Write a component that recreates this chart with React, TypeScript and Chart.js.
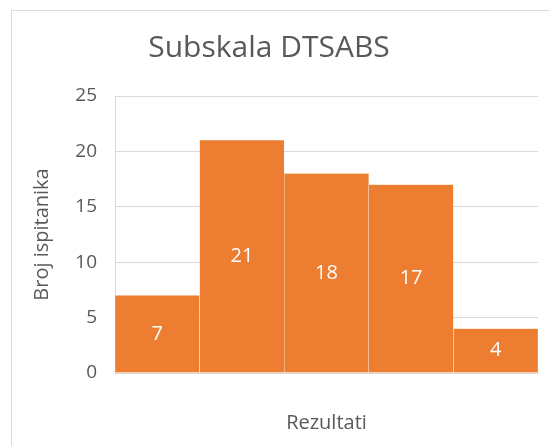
import React, { useEffect, useRef } from "react";
import { Chart, registerables } from "chart.js";

Chart.register(...registerables);

const categories = ["Bin 1", "Bin 2", "Bin 3", "Bin 4", "Bin 5"];
const counts = [7, 21, 18, 17, 4];
const yTicks = [0, 5, 10, 15, 20, 25];
const titleText = "Subskala DTSABS";
const yTitle = "Broj ispitanika";
const xTitle = "Rezultati";

const FONT = "'Open Sans', sans-serif";
const TEXT = "#595959";
const GRID = "#d9d9d9";
const BAR = "#ED7D31";

const frame = {
  id: "frame",
  beforeDraw(chart: any) {
    const ctx = chart.ctx;
    ctx.save();
    ctx.fillStyle = "#ffffff";
    ctx.fillRect(0, 0, chart.width, chart.height);
    ctx.strokeStyle = GRID;
    ctx.lineWidth = 1;
    ctx.strokeRect(11.5, 10.5, 700, 700);
    ctx.restore();
  },
};

const labels = {
  id: "barLabels",
  afterDatasetsDraw(chart: any) {
    const ctx = chart.ctx;
    const meta = chart.getDatasetMeta(0);
    ctx.save();
    ctx.fillStyle = "#ffffff";
    ctx.font = `20px ${FONT}`;
    ctx.textAlign = "center";
    ctx.textBaseline = "middle";
    meta.data.forEach((bar: any, i: number) => {
      const { x, y, base } = bar.getProps(["x", "y", "base"], true);
      ctx.fillText(String(counts[i]), x, (y + base) / 2);
    });
    ctx.restore();
  },
};

export default function App() {
  const ref = useRef<HTMLCanvasElement>(null);
  useEffect(() => {
    if (!ref.current) return;
    const chart = new Chart(ref.current, {
      type: "bar",
      data: {
        labels: categories,
        datasets: [
          {
            data: counts,
            backgroundColor: BAR,
            borderColor: "rgba(255,255,255,0.7)",
            borderWidth: { left: 0.5, right: 0.5, top: 0, bottom: 0 },
            categoryPercentage: 1,
            barPercentage: 1,
          },
        ],
      },
      options: {
        responsive: false,
        animation: false,
        devicePixelRatio: 1,
        layout: { padding: { left: 0, right: 11, top: 0, bottom: 0 } },
        plugins: {
          legend: { display: false },
          tooltip: { enabled: false },
          title: {
            display: true,
            text: titleText,
            color: TEXT,
            font: { family: FONT, size: 30, weight: "normal" },
            padding: { top: 30, bottom: 30 },
          },
        },
        scales: {
          x: {
            grid: { display: false, drawTicks: false },
            border: { display: true, color: GRID },
            ticks: { display: false },
            title: {
              display: true,
              text: xTitle,
              color: TEXT,
              font: { family: FONT, size: 20 },
              padding: { top: 38, bottom: 11 },
            },
          },
          y: {
            min: 0,
            max: 25,
            afterBuildTicks(scale: any) {
              scale.ticks = yTicks.map((v) => ({ value: v }));
            },
            afterFit(scale: any) {
              scale.width = 115;
            },
            grid: { color: GRID, drawTicks: false },
            border: { display: true, color: GRID },
            ticks: {
              color: TEXT,
              font: { family: FONT, size: 19 },
              padding: 18,
            },
            title: {
              display: true,
              text: yTitle,
              color: TEXT,
              font: { family: FONT, size: 20 },
              padding: { top: 30, bottom: 0 },
            },
          },
        },
      },
      plugins: [frame, labels],
    });
    return () => chart.destroy();
  }, []);
  return (
    <div style={{ position: "fixed", left: 0, top: 0, width: 549, height: 446, overflow: "hidden" }}>
      <canvas ref={ref} width={549} height={446} style={{ width: 549, height: 446, display: "block" }} />
    </div>
  );
}
